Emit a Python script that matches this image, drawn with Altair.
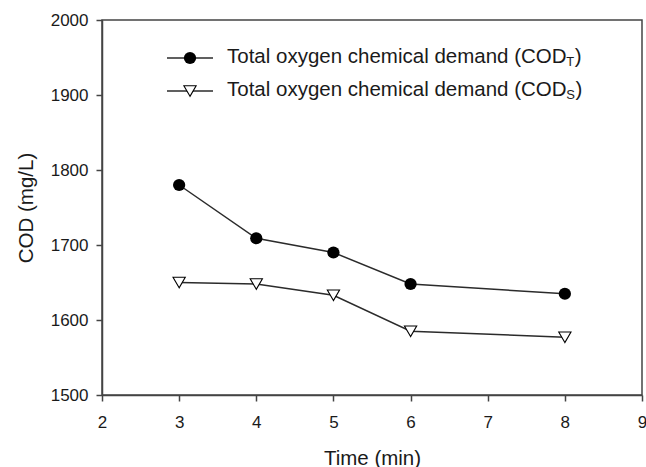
import altair as alt
import pandas as pd

# Measured COD over reaction time
time_min = [3, 4, 5, 6, 8]
cod_total = [1780, 1709, 1690, 1648, 1635]
cod_soluble = [1650, 1648, 1633, 1585, 1577]

legend_main = ["Total oxygen chemical demand (COD", "Total oxygen chemical demand (COD"]
legend_sub = ["T", "S"]

FONT = "Liberation Sans"
W, H = 540, 375
MAIN_SIZE = 20.5
SUB_SIZE = 13

# Arial / Liberation Sans advance widths (per 1000 em), used to place subscripts
ADV = {"T": 611, "o": 556, "t": 278, "a": 556, "l": 222, " ": 278, "x": 500, "y": 500,
       "g": 556, "e": 556, "n": 556, "c": 500, "h": 556, "m": 833, "i": 222, "d": 556,
       "(": 333, ")": 333, "C": 722, "O": 778, "D": 722, "S": 667}


def text_width(s, size):
    return sum(ADV.get(ch, 556) for ch in s) * size / 1000.0


df_t = pd.DataFrame({"time": time_min, "cod": cod_total})
df_s = pd.DataFrame({"time": time_min, "cod": cod_soluble})

x_enc = alt.X("time:Q", scale=alt.Scale(domain=[2, 9], nice=False),
              axis=alt.Axis(values=list(range(2, 10)), format="d", title="Time (min)",
                            titleY=69, titleBaseline="alphabetic",
                            labelBaseline="alphabetic", labelPadding=26))
y_enc = alt.Y("cod:Q", scale=alt.Scale(domain=[1500, 2000], nice=False, zero=False),
              axis=alt.Axis(values=list(range(1500, 2001, 100)), format="d",
                            title="COD (mg/L)",
                            titleAngle=270, titleX=-70, titleY=H / 2,
                            titleBaseline="alphabetic", titleAlign="center",
                            labelPadding=8))

line_style = dict(color="#2b2b2b", strokeWidth=1.5)
dot_style = dict(shape="circle", size=150, filled=True, color="#000000", opacity=1)
tri_style = dict(shape="triangle-down", size=150, filled=True, fill="#ffffff",
                 stroke="#000000", strokeWidth=1.1, opacity=1)

line_t = alt.Chart(df_t).mark_line(**line_style).encode(x=x_enc, y=y_enc)
pts_t = alt.Chart(df_t).mark_point(**dot_style).encode(x="time:Q", y="cod:Q")
line_s = alt.Chart(df_s).mark_line(**line_style).encode(x="time:Q", y="cod:Q")
pts_s = alt.Chart(df_s).mark_point(**tri_style).encode(x="time:Q", y="cod:Q")

# Legend drawn inside the plot area, one single-row source per entry
legend_layers = []
row_y = [38, 71]
sym_x0, sym_x1, sym_xc, text_x = 65, 111, 88, 125
for i, (main, sub) in enumerate(zip(legend_main, legend_sub)):
    src = pd.DataFrame({"main": [main], "sub": [sub]})
    ly = row_y[i]
    base = ly + 5
    legend_layers.append(
        alt.Chart(src).mark_rule(**line_style).encode(
            x=alt.value(sym_x0), x2=alt.value(sym_x1), y=alt.value(ly)))
    legend_layers.append(
        alt.Chart(src).mark_point(**(dot_style if i == 0 else tri_style)).encode(
            x=alt.value(sym_xc), y=alt.value(ly)))
    main_w = text_width(main, MAIN_SIZE)
    sub_x = text_x + main_w - 2.5
    close_x = sub_x + text_width(sub, SUB_SIZE) + 0.5
    legend_layers.append(
        alt.Chart(src).mark_text(align="left", baseline="alphabetic", font=FONT,
                                 fontSize=MAIN_SIZE, color="#1a1a1a").encode(
            x=alt.value(text_x), y=alt.value(base), text="main:N"))
    legend_layers.append(
        alt.Chart(src).mark_text(align="left", baseline="alphabetic", font=FONT,
                                 fontSize=SUB_SIZE, color="#1a1a1a").encode(
            x=alt.value(sub_x), y=alt.value(base + 3), text="sub:N"))
    legend_layers.append(
        alt.Chart(src).mark_text(align="left", baseline="alphabetic", font=FONT,
                                 fontSize=MAIN_SIZE, color="#1a1a1a").encode(
            x=alt.value(close_x), y=alt.value(base), text=alt.value(")")))

chart = alt.layer(line_t, line_s, pts_t, pts_s, *legend_layers).properties(
    width=W, height=H,
    autosize=alt.AutoSizeParams(type="none"),
    padding={"left": 102, "top": 20, "right": 4, "bottom": 72},
    background="#ffffff",
).configure_view(
    stroke="#444444", strokeWidth=1.5
).configure_axis(
    grid=False, domainColor="#444444", domainWidth=1.5, tickColor="#444444",
    tickWidth=1.5, tickSize=6, labelFont=FONT, labelFontSize=17, labelColor="#1a1a1a",
    titleFont=FONT, titleFontSize=20.5, titleFontWeight="normal", titleColor="#1a1a1a",
    labelFlush=False, labelOverlap=False,
)

chart.save("out.html", embed_options={"renderer": "svg", "actions": False})
